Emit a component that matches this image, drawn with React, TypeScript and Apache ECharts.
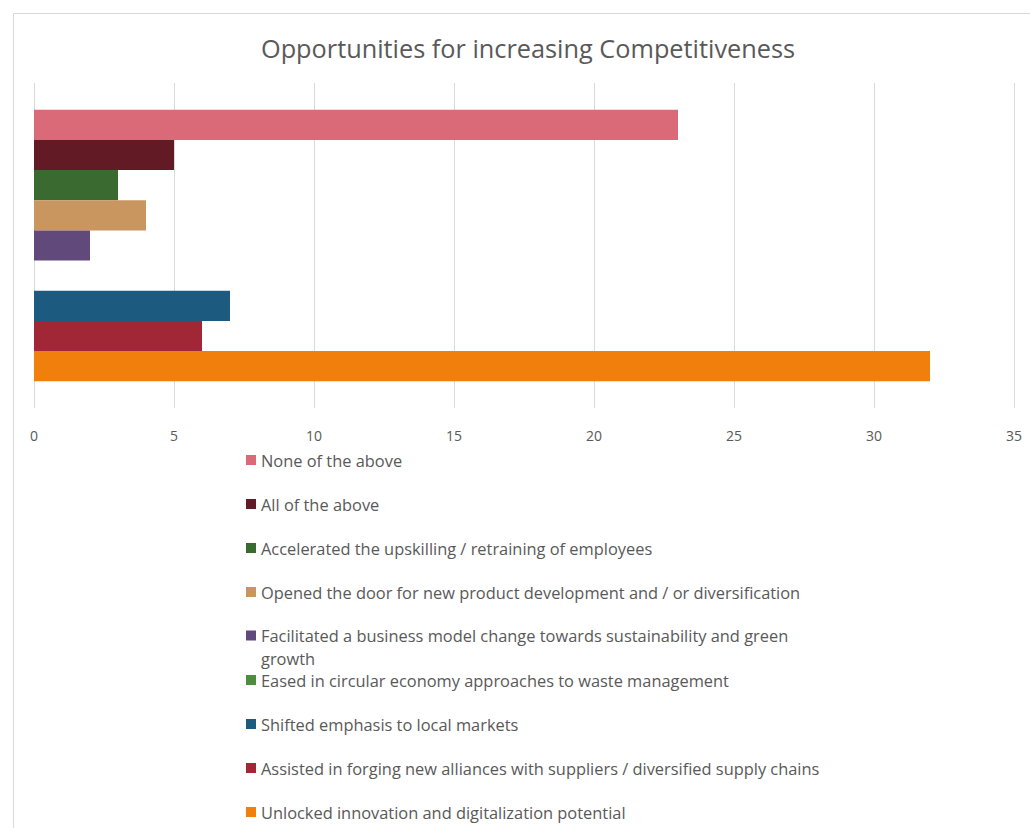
import React, { useEffect, useRef } from "react";
import * as echarts from "echarts";

const TITLE = "Opportunities for increasing Competitiveness";
const CATEGORIES = [""];
const SERIES_NAMES = [
  "None of the above",
  "All of the above",
  "Accelerated the upskilling / retraining of employees",
  "Opened the door for new product development and / or diversification",
  "Facilitated a business model change towards sustainability and green growth",
  "Eased in circular economy approaches to waste management",
  "Shifted emphasis to local markets",
  "Assisted in forging new alliances with suppliers / diversified supply chains",
  "Unlocked innovation and digitalization potential",
];
const SERIES_VALUES = [23, 5, 3, 4, 2, 0, 7, 6, 32];
const SERIES_COLORS = [
  "#DA6A78",
  "#621B24",
  "#3B6A31",
  "#C8965E",
  "#614A7B",
  "#4E8C3F",
  "#1C5A80",
  "#A22736",
  "#F07F0B",
];
const X_TICKS = [0, 5, 10, 15, 20, 25, 30, 35];
const WRAPPED_LABELS: Record<string, string> = {
  "Facilitated a business model change towards sustainability and green growth":
    "Facilitated a business model change towards sustainability and green\ngrowth",
};

const FONT = "'Open Sans', sans-serif";
const TEXT_COLOR = "#595959";

export default function App() {
  const ref = useRef<HTMLDivElement>(null);
  useEffect(() => {
    document.body.style.margin = "0";
    if (!ref.current) return;
    const chart = echarts.init(ref.current, undefined, { renderer: "svg" });
    const lineH = 23;
    const legends = SERIES_NAMES.map((name, i) => {
      const yc = 460 + i * 44;
      const wrapped = WRAPPED_LABELS[name];
      const ih = wrapped ? 10 + lineH : 10;
      return {
        data: [name],
        orient: "vertical",
        left: 246,
        top: wrapped ? yc - 5 - 7 : yc - 11.5,
        padding: 0,
        itemWidth: 10,
        itemHeight: ih,
        icon: wrapped ? "path://M0,0L10,0L10,10L0,10Z M0,33L10,33Z" : "rect",
        selectedMode: false,
        formatter: (n: string) => WRAPPED_LABELS[n] || n,
        textStyle: {
          fontFamily: FONT,
          fontSize: 16.4,
          color: TEXT_COLOR,
          lineHeight: lineH,
        },
      };
    });
    chart.setOption({
      animation: false,
      backgroundColor: "#ffffff",
      title: {
        text: TITLE,
        left: 523,
        textAlign: "center",
        top: 30,
        textStyle: {
          fontFamily: FONT,
          fontSize: 25.3,
          fontWeight: "normal",
          color: TEXT_COLOR,
        },
      },
      graphic: [
        {
          type: "rect",
          shape: { x: 13.5, y: 13.5, width: 1030, height: 830 },
          style: { fill: "none", stroke: "#d9d9d9", lineWidth: 1 },
          silent: true,
        },
      ],
      legend: legends,
      grid: { left: 34, right: 16, top: 83, bottom: 420, containLabel: false },
      xAxis: {
        type: "value",
        min: X_TICKS[0],
        max: X_TICKS[X_TICKS.length - 1],
        interval: X_TICKS[1] - X_TICKS[0],
        axisLine: { show: false },
        axisTick: { show: false },
        splitLine: { show: true, lineStyle: { color: "#d9d9d9", width: 1 } },
        axisLabel: {
          margin: 20,
          fontFamily: FONT,
          fontSize: 14,
          color: TEXT_COLOR,
        },
      },
      yAxis: {
        type: "category",
        data: CATEGORIES,
        inverse: true,
        axisLine: { show: false },
        axisTick: { show: false },
        axisLabel: { show: false },
        splitLine: { show: false },
      },
      series: SERIES_NAMES.map((name, i) => ({
        type: "bar",
        name,
        data: [SERIES_VALUES[i]],
        itemStyle: { color: SERIES_COLORS[i] },
        barGap: "0%",
        barCategoryGap: "16.5%",
      })),
    });
    return () => chart.dispose();
  }, []);
  return <div ref={ref} style={{ width: 1030, height: 828 }} />;
}
